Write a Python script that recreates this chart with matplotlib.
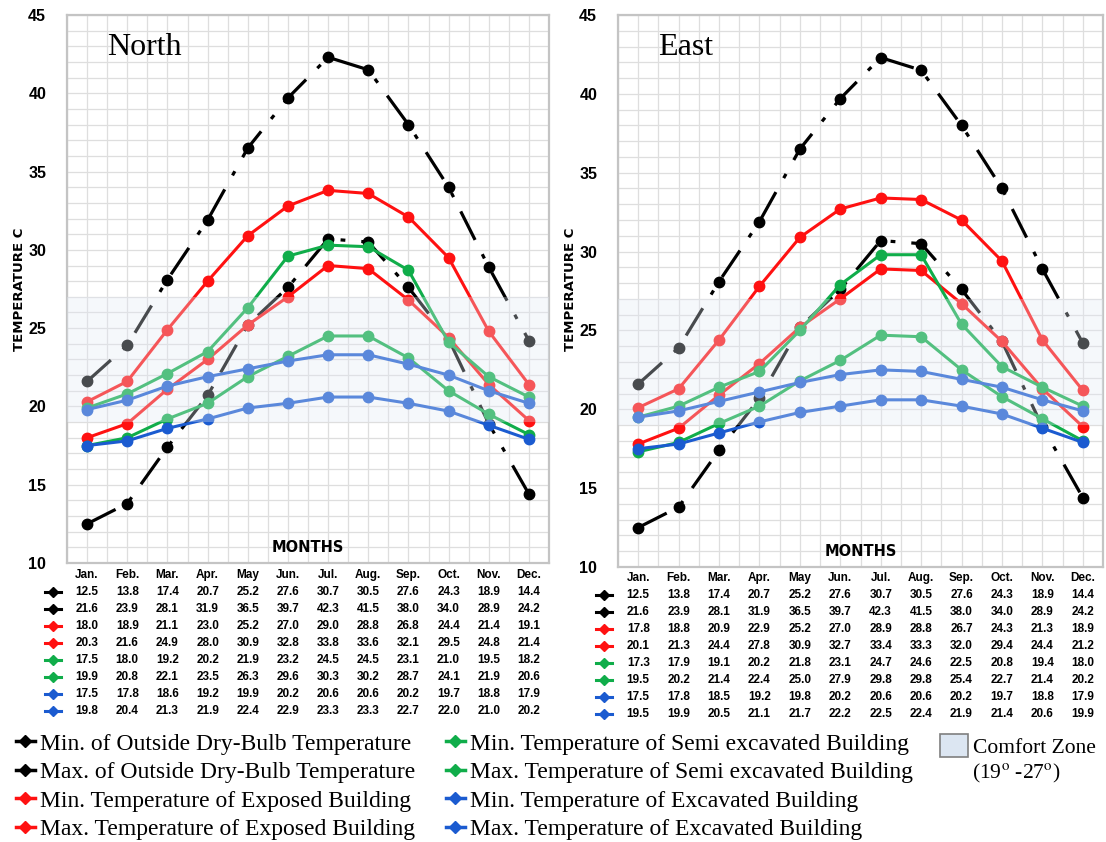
import matplotlib
matplotlib.use("Agg")
import matplotlib.pyplot as plt
from matplotlib.lines import Line2D
from matplotlib.patches import Patch
from matplotlib.transforms import blended_transform_factory

plt.rcParams['mathtext.fontset'] = 'stix'

months = ['Jan.', 'Feb.', 'Mar.', 'Apr.', 'May', 'Jun.', 'Jul.', 'Aug.', 'Sep.', 'Oct.', 'Nov.', 'Dec.']

out_min = [12.5, 13.8, 17.4, 20.7, 25.2, 27.6, 30.7, 30.5, 27.6, 24.3, 18.9, 14.4]
out_max = [21.6, 23.9, 28.1, 31.9, 36.5, 39.7, 42.3, 41.5, 38.0, 34.0, 28.9, 24.2]

north_exp_min = [18.0, 18.9, 21.1, 23.0, 25.2, 27.0, 29.0, 28.8, 26.8, 24.4, 21.4, 19.1]
north_exp_max = [20.3, 21.6, 24.9, 28.0, 30.9, 32.8, 33.8, 33.6, 32.1, 29.5, 24.8, 21.4]
north_semi_min = [17.5, 18.0, 19.2, 20.2, 21.9, 23.2, 24.5, 24.5, 23.1, 21.0, 19.5, 18.2]
north_semi_max = [19.9, 20.8, 22.1, 23.5, 26.3, 29.6, 30.3, 30.2, 28.7, 24.1, 21.9, 20.6]
north_exc_min = [17.5, 17.8, 18.6, 19.2, 19.9, 20.2, 20.6, 20.6, 20.2, 19.7, 18.8, 17.9]
north_exc_max = [19.8, 20.4, 21.3, 21.9, 22.4, 22.9, 23.3, 23.3, 22.7, 22.0, 21.0, 20.2]

east_exp_min = [17.8, 18.8, 20.9, 22.9, 25.2, 27.0, 28.9, 28.8, 26.7, 24.3, 21.3, 18.9]
east_exp_max = [20.1, 21.3, 24.4, 27.8, 30.9, 32.7, 33.4, 33.3, 32.0, 29.4, 24.4, 21.2]
east_semi_min = [17.3, 17.9, 19.1, 20.2, 21.8, 23.1, 24.7, 24.6, 22.5, 20.8, 19.4, 18.0]
east_semi_max = [19.5, 20.2, 21.4, 22.4, 25.0, 27.9, 29.8, 29.8, 25.4, 22.7, 21.4, 20.2]
east_exc_min = [17.5, 17.8, 18.5, 19.2, 19.8, 20.2, 20.6, 20.6, 20.2, 19.7, 18.8, 17.9]
east_exc_max = [19.5, 19.9, 20.5, 21.1, 21.7, 22.2, 22.5, 22.4, 21.9, 21.4, 20.6, 19.9]

comfort_low, comfort_high = 19, 27

labels = ['Min. of Outside Dry-Bulb Temperature',
          'Max. of Outside Dry-Bulb Temperature',
          'Min. Temperature of Exposed Building',
          'Max. Temperature of Exposed Building',
          'Min. Temperature of Semi excavated Building',
          'Max. Temperature of Semi excavated Building',
          'Min. Temperature of Excavated Building',
          'Max. Temperature of Excavated Building']

BLACK = '#000000'
RED = '#ff1111'
GREEN = '#10ad4a'
BLUE = '#1b5bd0'
colors = [BLACK, BLACK, RED, RED, GREEN, GREEN, BLUE, BLUE]

W, H = 1106, 842
fig = plt.figure(figsize=(W / 100, H / 100), dpi=100)


def fx(px):
    return px / W


def fy(py):
    return 1 - py / H


def panel(x0, x1, y0, y1, title, series, ylab_x, row_top, icon_x):
    ax = fig.add_axes([fx(x0), fy(y1), fx(x1 - x0), (y1 - y0) / H])
    x = list(range(1, 13))
    for i, (vals, c) in enumerate(zip(series, colors)):
        if i < 2:
            ax.plot(x, vals, color=c, lw=2.3, marker='o', ms=7.5,
                    dashes=(10, 5, 1.5, 5), zorder=3)
        else:
            ax.plot(x, vals, color=c, lw=2.2, marker='o', ms=7.5, zorder=3)
    # comfort band drawn over lines, as in the original
    ax.axhspan(comfort_low, comfort_high, color='#e2eaf4', alpha=0.32, lw=0, zorder=4)

    ax.set_xlim(0.5, 12.5)
    ax.set_ylim(10, 45)
    ax.set_yticks(range(10, 46, 5))
    ax.set_yticks(range(10, 46), minor=True)
    ax.set_xticks([i + 0.5 for i in range(0, 13)])
    ax.set_xticks([i for i in range(1, 13)], minor=True)
    ax.set_xticklabels([])
    ax.grid(True, which='both', color='#dedede', lw=0.9, zorder=0)
    ax.set_axisbelow(True)
    ax.tick_params(axis='both', which='both', length=0)
    ax.tick_params(axis='y', pad=15)
    for lab in ax.get_yticklabels():
        lab.set_fontweight('bold')
        lab.set_fontsize(11.5)
        lab.set_family('Liberation Sans')
    for s in ax.spines.values():
        s.set_color('#c4c4c4')
        s.set_linewidth(1.6)

    ax.text(0.083, 0.927, title, transform=ax.transAxes, fontsize=23,
            family='Liberation Serif', va='baseline', ha='left')
    ax.text(6.5, 11.0, 'MONTHS', ha='center', va='center', fontsize=10.5,
            fontweight='bold', family='DejaVu Sans', zorder=5)
    fig.text(fx(ylab_x), fy(289), 'TEMPERATURE C', rotation=90,
             ha='center', va='center', fontsize=9.5, fontweight='bold',
             family='DejaVu Sans')

    # data table under the plot
    tr = blended_transform_factory(ax.transData, fig.transFigure)
    for i, m in enumerate(months):
        ax.text(i + 1, fy(row_top), m, transform=tr, ha='center', va='center',
                fontsize=8.5, fontweight='bold', family='Liberation Sans')
    ftr = fig.transFigure
    for r, (vals, c) in enumerate(zip(series, colors)):
        yy = fy(row_top + 17 * (r + 1))
        for i, v in enumerate(vals):
            ax.text(i + 1, yy, f'{v:.1f}', transform=tr, ha='center', va='center',
                    fontsize=8.5, fontweight='bold', family='Liberation Sans')
        fig.add_artist(Line2D([fx(icon_x - 8), fx(icon_x + 8)], [yy, yy],
                              color=c, lw=2.2, transform=ftr))
        fig.add_artist(Line2D([fx(icon_x)], [yy], color=c, marker='D', ms=5,
                              transform=ftr))
    return ax


north = [out_min, out_max, north_exp_min, north_exp_max, north_semi_min,
         north_semi_max, north_exc_min, north_exc_max]
east = [out_min, out_max, east_exp_min, east_exp_max, east_semi_min,
        east_semi_max, east_exc_min, east_exc_max]

panel(67, 549, 15, 563, 'North', north, 20, 575, 53)
panel(618, 1103, 15, 567, 'East', east, 571, 578, 604)

# bottom legend
handles = [Line2D([0], [0], color=c, lw=2.5, marker='D', ms=6) for c in colors]
leg_kw = dict(frameon=False, handlelength=0.8, handletextpad=0.2,
              labelspacing=0.3, borderaxespad=0, borderpad=0,
              prop={'family': 'Liberation Serif', 'size': 17})
l1 = fig.legend(handles[:4], labels[:4], loc='upper left',
                bbox_to_anchor=(fx(16), fy(733)), **leg_kw)
l2 = fig.legend(handles[4:], labels[4:], loc='upper left',
                bbox_to_anchor=(fx(446), fy(733)), **leg_kw)
comfort = Patch(facecolor='#dce6f2', edgecolor='#7f7f7f', lw=1.2)
fig.legend([comfort], ['Comfort Zone'], loc='upper left',
           bbox_to_anchor=(fx(940), fy(734)), frameon=False, handlelength=1.3,
           handleheight=1.3, handletextpad=0.25, borderpad=0, borderaxespad=0,
           prop={'family': 'Liberation Serif', 'size': 15.5})
fig.text(fx(972), fy(773), '(19$^{\\mathrm{o}}$ -27$^{\\mathrm{o}}$)',
         fontsize=15.5, family='Liberation Serif', va='center', ha='left')

fig.savefig('out.png', dpi=100)
